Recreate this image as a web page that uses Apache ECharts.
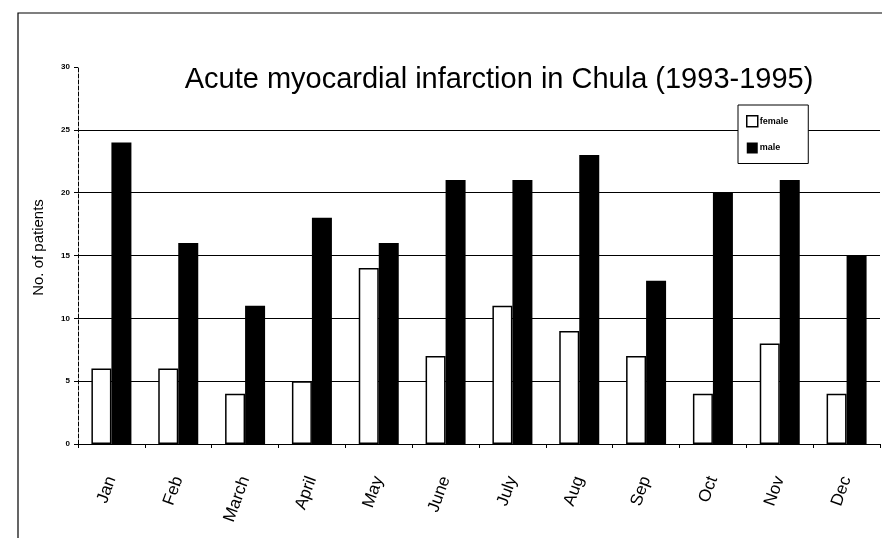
<!DOCTYPE html>
<html>
<head>
<meta charset="utf-8">
<script src="https://cdn.jsdelivr.net/npm/echarts@6/dist/echarts.min.js"></script>
<style>
  html, body { margin: 0; padding: 0; background: #fff; }
  #main { width: 882px; height: 538px; }
</style>
</head>
<body>
<div id="main"></div>
<script>
// data
var months = ['Jan', 'Feb', 'March', 'April', 'May', 'June', 'July', 'Aug', 'Sep', 'Oct', 'Nov', 'Dec']
var female = [6, 6, 4, 5, 14, 7, 11, 9, 7, 4, 8, 4]
var male = [24, 16, 11, 18, 16, 21, 21, 23, 13, 20, 21, 15]

var chartDom = document.getElementById('main')
var myChart = echarts.init(chartDom)
var font = '"Liberation Sans", Arial, sans-serif'

var option = {
  animation: false,
  backgroundColor: '#fff',
  textStyle: { fontFamily: font, color: '#000' },
  title: {
    text: 'Acute myocardial infarction in Chula (1993-1995)',
    left: 494,
    textAlign: 'center',
    top: 60,
    textStyle: { fontSize: 29, fontWeight: 'normal', color: '#000', fontFamily: font },
  },
  // frame around the picture
  graphic: [
    {
      type: 'polyline',
      shape: { points: [[18, 538], [18, 13], [882, 13]] },
      style: { stroke: '#000', lineWidth: 1.2, fill: null },
    },
  ],
  legend: {
    data: [
      { name: 'female', itemStyle: { color: '#fff', borderColor: '#000', borderWidth: 1.5 } },
      { name: 'male', itemStyle: { color: '#000' } },
    ],
    orient: 'vertical',
    left: 738,
    top: 105,
    width: 71,
    padding: [10, 20, 10, 8],
    itemGap: 15,
    itemWidth: 11,
    itemHeight: 11,
    icon: 'rect',
    backgroundColor: '#fff',
    borderColor: '#000',
    borderWidth: 1,
    borderRadius: 0,
    textStyle: { fontSize: 9, fontWeight: 'bold', color: '#000', padding: [0, 0, 0, -3] },
  },
  grid: {
    left: 78,
    right: 2,
    top: 67,
    bottom: 94,
    containLabel: false,
  },
  xAxis: {
    type: 'category',
    data: months,
    axisLine: { lineStyle: { color: '#000', width: 1.2 } },
    axisTick: { show: true, length: 4, lineStyle: { color: '#000' } },
    axisLabel: {
      rotate: 70,
      fontSize: 17,
      color: '#000',
      margin: 33,
      fontFamily: font,
    },
    splitLine: { show: false },
  },
  yAxis: {
    type: 'value',
    min: 0,
    max: 30,
    interval: 5,
    name: 'No. of patients',
    nameLocation: 'middle',
    nameGap: 32,
    nameTextStyle: { fontSize: 15, color: '#000', fontFamily: font, padding: [0, 0, 0, 16] },
    axisLine: { show: true, lineStyle: { color: '#000', width: 1, type: 'dashed' } },
    axisTick: { show: true, length: 4, lineStyle: { color: '#000' } },
    axisLabel: { fontSize: 8, fontWeight: 'bold', color: '#000', margin: 8 },
    splitLine: {
      show: true,
      lineStyle: { color: '#000', width: 1.2 },
      showMaxLine: false,
    },
  },
  series: [
    {
      name: 'female',
      type: 'bar',
      data: female,
      barWidth: 20,
      barGap: 0,
      itemStyle: { color: '#fff', borderColor: '#000', borderWidth: 1.5 },
    },
    {
      name: 'male',
      type: 'bar',
      data: male,
      barWidth: 20,
      barGap: 0,
      itemStyle: { color: '#000' },
    },
  ],
}

option && myChart.setOption(option)
</script>
</body>
</html>
